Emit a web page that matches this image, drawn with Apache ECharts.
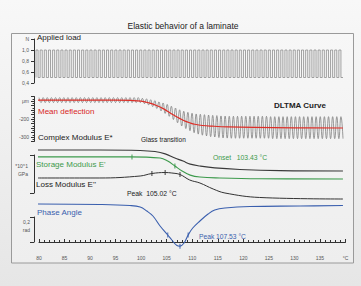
<!DOCTYPE html>
<html><head><meta charset="utf-8">
<script src="https://cdn.jsdelivr.net/npm/echarts@6/dist/echarts.min.js"></script>
<style>html,body{margin:0;padding:0;background:#f0f0f0}#c{width:361px;height:286px}</style>
</head><body><div id="c"></div>
<script>
// ---------- data ----------
const chartTitle = 'Elastic behavior of a laminate';
const xTickLabels = ['80','85','90','95','100','105','110','115','120','125','130','135','°C'];
const loadTickLabels = ['0,4','0,6','0,8','1,0','N'];
const deflTickLabels = {'-100':'μm','-200':'-200','-300':'-300'};

// applied load square wave (N), one value per half period
const loadValues = [
0.5,1,0.5,1,0.5,1,0.5,1,0.5,1,0.5,1,0.5,1,0.5,1,0.5,1,0.5,1,
0.5,1,0.5,1,0.5,1,0.5,1,0.5,1,0.5,1,0.5,1,0.5,1,0.5,1,0.5,1,
0.5,1,0.5,1,0.5,1,0.5,1,0.5,1,0.5,1,0.5,1,0.5,1,0.5,1,0.5,1,
0.5,1,0.5,1,0.5,1,0.5,1,0.5,1,0.5,1,0.5,1,0.5,1,0.5,1,0.5,1,
0.5,1,0.5,1,0.5,1,0.5,1,0.5,1,0.5,1,0.5,1,0.5,1,0.5,1,0.5,1,
0.5,1,0.5,1,0.5,1,0.5,1,0.5,1,0.5,1,0.5,1,0.5,1,0.5,1,0.5,1,
0.5,1,0.5,1,0.5,1,0.5,1,0.5,1,0.5,1,0.5,1,0.5,1,0.5,1,0.5,1,
0.5,1,0.5,1,0.5,1,0.5,1,0.5
];

// deflection oscillation (μm): crest and trough of each cycle
const deflTop = [
-81,-81,-81,-81,-81,-81,-81,-81,-81,-81,-81,-81,-81,-81,-81,-81,-81,-81,-81,-81,-81,-81,-81,-81,-81,
-85,-88,-93,-98,-105,-111,-119,-129,-139,-149,-157,-163,-168,-172,-174,-176,-178,-180,-181,-183,-184,
-185,-185,-185,-185,-185,-185,-185,-185,-185,-185,
-187,-187,-187,-187,-187,-187,-187,-187,-187,-187,-187,-187,-187,-187,-187,-187,-187,-187
];
const deflBottom = [
-109,-109,-109,-109,-109,-109,-109,-109,-109,-109,-109,-109,-109,-109,-109,-109,-109,-109,-109,-109,-109,-109,-109,-109,-109,
-115,-122,-131,-142,-155,-169,-185,-203,-221,-239,-253,-265,-276,-284,-290,-294,-298,-300,-303,-305,-306,
-307,-307,-307,-307,-307,-307,-307,-307,-307,-307,
-309,-309,-309,-309,-309,-309,-309,-309,-309,-309,-309,-309,-309,-309,-309,-309,-309,-309
];

// mean deflection (μm) vs temperature (°C)
const meanTemps  = [79.5, 95, 98, 100, 101.7, 103, 104.5, 105.6, 106.6, 107.6, 108.6, 109.6, 110.5, 112, 114, 117, 122, 130, 139.5];
const meanValues = [-95, -95, -97, -101, -112, -125, -145, -165, -182, -198, -212, -222, -229, -236, -240, -244, -247, -249, -250];

// complex modulus E* (GPa, relative)
const complexTemps  = [79.8, 91.9, 99.8, 102.7, 104.7, 106.6, 108.2, 109.6, 111.5, 114.4, 119.3, 127.2, 139.5];
const complexValues = [11.3, 11.3, 11.2, 10.9, 10.3, 9.2, 8.4, 7.6, 7.1, 6.6, 6.2, 5.9, 5.8];
// storage modulus E'
const storageTemps  = [79.8, 97.8, 103.7, 105.2, 106.6, 108.0, 109.6, 111.5, 115.4, 123.2, 139.5];
const storageValues = [9.5, 9.5, 9.2, 8.4, 7.1, 5.8, 4.7, 4.2, 3.95, 3.75, 3.7];
// loss modulus E''
const lossTemps  = [79.8, 91.9, 99.8, 102.1, 104.7, 106.0, 107.6, 109.5, 111.5, 114.1, 116.4, 123.2, 139.5];
const lossValues = [3.95, 3.95, 4.47, 5.13, 5.39, 5.26, 4.87, 3.42, 2.63, 1.05, 0, -1.18, -1.58];
// phase angle (rad)
const phaseTemps  = [79.8, 91.9, 97.8, 99.8, 101.1, 102.3, 103.7, 105.2, 106.0, 107.0, 107.6, 108.4, 109.2, 110.1, 111.5, 113.1, 114.4, 116.4, 121.3, 131.1, 139.5];
const phaseValues = [0.304, 0.300, 0.292, 0.280, 0.248, 0.208, 0.128, 0.056, 0.016, -0.028, -0.033, -0.008, 0.056, 0.112, 0.168, 0.224, 0.256, 0.272, 0.284, 0.288, 0.292];

// evaluation markers
const storageMarkTemps = [98.2, 106.6], storageMarkValues = [9.5, 7.1];
const lossMarkTemps = [102.1, 104.7, 107.6], lossMarkValues = [5.13, 5.39, 4.87];
const phaseMarkTemps = [105.2, 107.6, 109.2], phaseMarkValues = [0.056, -0.033, 0.056];

// ---------- build ----------
const FONT = '"Liberation Sans", Arial, sans-serif';
const pairs = (xs, ys) => xs.map((x, i) => [x, ys[i]]);
const deflWave = [];
deflTop.forEach((t, i) => { deflWave.push(t, deflBottom[i]); });

const L = 39, W = 306.5;
const grids = [
  {left: L, top: 39, width: W, height: 44},          // 0 load axis
  {left: 36, top: 39, width: 307, height: 44},       // 1 load wave
  {left: L, top: 96.5, width: W, height: 45},        // 2 deflection axis
  {left: L, top: 96.5, width: 304, height: 45},      // 3 deflection wave
  {left: L, top: 155, width: W, height: 38},         // 4 moduli
  {left: L, top: 217, width: W, height: 25}          // 5 phase
].map(g => Object.assign({containLabel: false, outerBoundsMode: 'none'}, g));

const hiddenVal = gi => ({gridIndex: gi, type: 'value', min: 80, max: 140, show: false});
const hiddenCat = (gi, n) => ({gridIndex: gi, type: 'category', boundaryGap: false, show: false,
  data: Array.from({length: n}, (_, i) => i)});
const axisCol = '#333';
const tickLbl = {fontSize: 5, color: '#555', fontFamily: FONT};

const option = {
  animation: false,
  backgroundColor: {type: 'linear', x: 0, y: 0, x2: 0, y2: 1,
    colorStops: [{offset: 0, color: '#f8f8f8'}, {offset: 1, color: '#e6e6e6'}]},
  grid: grids,
  xAxis: [
    hiddenVal(0),
    hiddenCat(1, loadValues.length),
    hiddenVal(2),
    hiddenCat(3, deflWave.length),
    hiddenVal(4),
    {gridIndex: 5, type: 'value', min: 80, max: 140, interval: 5, position: 'bottom', offset: 8,
      axisLine: {lineStyle: {color: axisCol, width: 1}},
      axisTick: {inside: true, length: 3, lineStyle: {color: axisCol}},
      minorTick: {show: true, splitNumber: 5, length: 2, lineStyle: {color: axisCol}},
      splitLine: {show: false}, minorSplitLine: {show: false},
      axisLabel: Object.assign({margin: 5, showMinLabel: true, showMaxLabel: true,
        formatter: (v, i) => xTickLabels[i]}, tickLbl)}
  ],
  yAxis: [
    {gridIndex: 0, type: 'value', min: 0.4, max: 1.2, interval: 0.2, offset: 5,
      axisLine: {show: true, lineStyle: {color: axisCol}},
      axisTick: {show: true, length: 3, lineStyle: {color: axisCol}},
      splitLine: {show: false},
      axisLabel: Object.assign({margin: 5, formatter: (v, i) => loadTickLabels[i]}, tickLbl)},
    {gridIndex: 1, type: 'value', min: 0.4, max: 1.2, show: false},
    {gridIndex: 2, type: 'value', min: -325, max: -75, interval: 25, offset: 5,
      axisLine: {show: true, lineStyle: {color: axisCol}},
      axisTick: {show: true, length: 3, lineStyle: {color: axisCol}},
      minorTick: {show: true, splitNumber: 2, length: 1.5, lineStyle: {color: axisCol}},
      splitLine: {show: false},
      axisLabel: Object.assign({margin: 5, formatter: v => deflTickLabels[String(Math.round(v))] || ''}, tickLbl)},
    {gridIndex: 3, type: 'value', min: -325, max: -75, show: false},
    {gridIndex: 4, type: 'value', min: 0, max: 10, interval: 10, offset: 5,
      axisLine: {show: true, lineStyle: {color: axisCol}},
      axisTick: {show: true, length: 4, lineStyle: {color: axisCol}},
      axisLabel: {show: false}, splitLine: {show: false}},
    {gridIndex: 5, type: 'value', min: 0, max: 0.2, interval: 0.2, offset: 5,
      axisLine: {show: true, lineStyle: {color: axisCol}},
      axisTick: {show: true, length: 4, lineStyle: {color: axisCol}},
      axisLabel: {show: false}, splitLine: {show: false}}
  ],
  series: [
    {type: 'line', name: 'Applied load', xAxisIndex: 1, yAxisIndex: 1, data: loadValues, step: 'start',
      symbol: 'none', lineStyle: {color: '#858585', width: 0.75}},
    {type: 'line', name: 'Deflection', xAxisIndex: 3, yAxisIndex: 3, data: deflWave, smooth: 0.5,
      symbol: 'none', clip: false, lineStyle: {color: '#7a7a7a', width: 0.75}},
    {type: 'line', name: 'Mean deflection', xAxisIndex: 2, yAxisIndex: 2, data: pairs(meanTemps, meanValues),
      smooth: 0.4, symbol: 'none', clip: false, lineStyle: {color: '#dd2e27', width: 1.2}, z: 5},
    {type: 'line', name: 'Complex Modulus E*', xAxisIndex: 4, yAxisIndex: 4, data: pairs(complexTemps, complexValues),
      smooth: 0.4, symbol: 'none', clip: false, lineStyle: {color: '#3a3a3a', width: 1.1}},
    {type: 'line', name: "Storage Modulus E'", xAxisIndex: 4, yAxisIndex: 4, data: pairs(storageTemps, storageValues),
      smooth: 0.4, symbol: 'none', clip: false, lineStyle: {color: '#3d9a4c', width: 1.1}},
    {type: 'line', name: "Loss Modulus E''", xAxisIndex: 4, yAxisIndex: 4, data: pairs(lossTemps, lossValues),
      smooth: 0.4, symbol: 'none', clip: false, lineStyle: {color: '#333', width: 1}},
    {type: 'line', name: 'Phase Angle', xAxisIndex: 5, yAxisIndex: 5, data: pairs(phaseTemps, phaseValues),
      smooth: 0.4, symbol: 'none', clip: false, lineStyle: {color: '#3a5fae', width: 1.1}},
    {type: 'scatter', xAxisIndex: 4, yAxisIndex: 4, data: pairs(storageMarkTemps, storageMarkValues), clip: false,
      symbol: 'rect', symbolSize: [1.2, 5], itemStyle: {color: '#3d9a4c'}, z: 6},
    {type: 'scatter', xAxisIndex: 4, yAxisIndex: 4, data: pairs(lossMarkTemps, lossMarkValues), clip: false,
      symbol: 'rect', symbolSize: [1.2, 5], itemStyle: {color: '#333'}, z: 6},
    {type: 'scatter', xAxisIndex: 5, yAxisIndex: 5, data: pairs(phaseMarkTemps, phaseMarkValues), clip: false,
      symbol: 'rect', symbolSize: [1.2, 5], itemStyle: {color: '#3a5fae'}, z: 6}
  ],
  graphic: [
    {type: 'rect', z: -10, silent: true, shape: {x: 11.5, y: 33.5, width: 342, height: 229.5},
      style: {fill: {type: 'linear', x: 0, y: 0, x2: 0, y2: 1,
        colorStops: [{offset: 0, color: '#f7f7f7'}, {offset: 1, color: '#eeeeee'}]},
        stroke: '#9a9a9a', lineWidth: 1}}
  ]
};

const texts = [
  [chartTitle, 183, 26, '#222', 8.5, 'normal', 'center'],
  ['Applied load', 37, 37.5, '#222', 8, 'normal', 'left'],
  ['Mean deflection', 38, 111.5, '#d8281f', 8, 'normal', 'left'],
  ['DLTMA Curve', 274, 105, '#222', 8, 'bold', 'left'],
  ['Complex Modulus E*', 38, 137, '#222', 8, 'normal', 'left'],
  ['Glass transition', 141, 139.5, '#222', 6.5, 'normal', 'left'],
  ['Onset   103.43 °C', 213, 157, '#3d9a4c', 6.8, 'normal', 'left'],
  ["Storage Modulus E'", 36, 164, '#3d9a4c', 8, 'normal', 'left'],
  ["Loss Modulus E''", 36, 184, '#222', 8, 'normal', 'left'],
  ['Peak  105.02 °C', 127, 193, '#222', 6.8, 'normal', 'left'],
  ['Phase Angle', 37, 212, '#3a5fae', 8, 'normal', 'left'],
  ['Peak 107.53 °C', 199, 236, '#3a5fae', 6.7, 'normal', 'left'],
  ['*10^1', 28, 166, '#555', 5, 'normal', 'right'],
  ['GPa', 28, 174, '#555', 5, 'normal', 'right'],
  ['0,2', 30, 222, '#555', 5, 'normal', 'right'],
  ['rad', 30, 230, '#555', 5, 'normal', 'right']
];
texts.forEach(([t, x, y, c, fs, fw, al]) => {
  option.graphic.push({type: 'text', z: 20, silent: true, x: x, y: y,
    style: {text: t, fill: c, fontSize: fs, fontWeight: fw, fontFamily: FONT,
      align: al, verticalAlign: 'middle', textAlign: al, textVerticalAlign: 'middle'}});
});

const chart = echarts.init(document.getElementById('c'), null, {renderer: 'svg', width: 361, height: 286});
chart.setOption(option);
</script>
</body></html>
